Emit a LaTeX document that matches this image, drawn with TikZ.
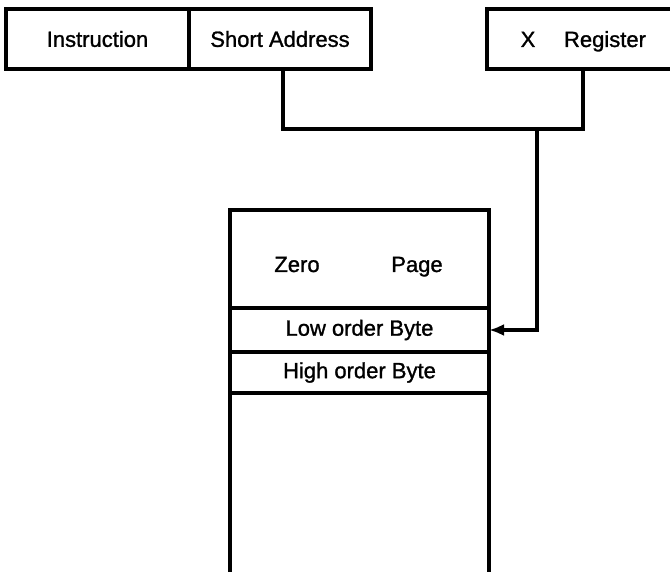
\documentclass[tikz,border=0pt]{standalone}
\usepackage{fontspec}
\setmainfont[FakeBold=1.2]{Liberation Sans}
\usetikzlibrary{arrows.meta}
\begin{document}
\begin{tikzpicture}[x=1pt,y=-1pt,
  line width=3.2pt,
  cell/.style={draw,rectangle,line width=3.2pt,inner sep=0pt,outer sep=0pt,font=\fontsize{22}{24}\selectfont},
  lbl/.style={inner sep=0pt,font=\fontsize{22}{24}\selectfont,anchor=base},
  conn/.style={line width=3.2pt,line join=miter}]
\useasboundingbox (0,0) rectangle (670,572);
% instruction format
\node[cell,minimum width=183pt,minimum height=60pt] (ins) at (97.5,39) {Instruction};
\node[cell,minimum width=182pt,minimum height=60pt] (sa) at (280,39) {Short Address};
\coordinate (sab) at (283,69);
% X register (open at right)
\coordinate (xrtl) at (487,9);
\coordinate (xrbl) at (487,69);
\draw (672,9) -- (xrtl) -- (xrbl) -- (672,69);
\node[lbl] (xx) at (528,47) {X};
\node[lbl] (xreg) at (605,47) {Register};
\coordinate (xrb) at (583,69);
% memory
\node[cell,minimum width=259pt,minimum height=98pt] (zp) at (359.5,259) {};
\node[lbl] (zero) at (297,272) {Zero};
\node[lbl] (page) at (417,272) {Page};
\node[cell,minimum width=259pt,minimum height=44pt] (lob) at (359.5,330) {Low order Byte};
\node[cell,minimum width=259pt,minimum height=41pt] (hob) at (359.5,372.5) {High order Byte};
\draw (hob.south west) -- ++(0,185);
\draw (hob.south east) -- ++(0,185);
% connectors
\coordinate (j) at (537,129);
\draw[conn] (sab) |- (j) -| (xrb);
\draw[conn,-{Latex[length=15pt,width=12pt]}] (j) |- (lob.east);
\end{tikzpicture}
\end{document}
